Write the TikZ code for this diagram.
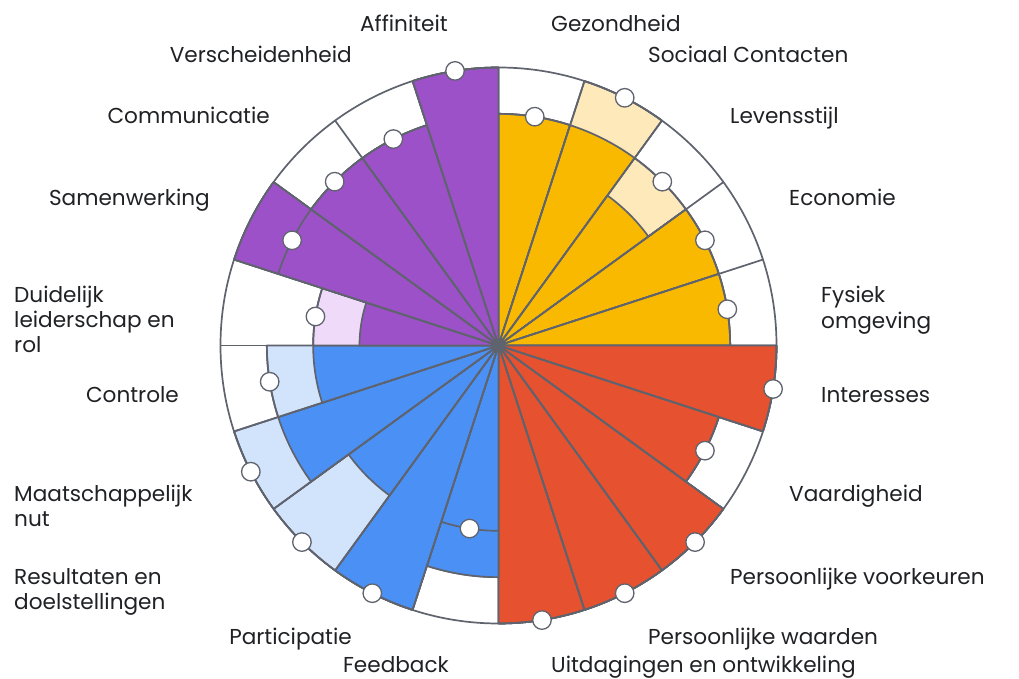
\documentclass[tikz,border=0pt]{standalone}
\usepackage{fontspec}
\setmainfont{Poppins}
\definecolor{linec}{RGB}{95,99,110}
\definecolor{txt}{RGB}{32,33,36}
\definecolor{cpurple}{RGB}{157,81,201}
\definecolor{lpurple}{RGB}{240,218,250}
\definecolor{cyellow}{RGB}{248,185,0}
\definecolor{lyellow}{RGB}{253,233,185}
\definecolor{cred}{RGB}{230,81,48}
\definecolor{lred}{RGB}{250,210,200}
\definecolor{cblue}{RGB}{74,144,245}
\definecolor{lblue}{RGB}{210,227,252}
\begin{document}
\begin{tikzpicture}[x=1pt,y=1pt,
  lbl/.style={inner sep=0pt,text=txt,font=\fontsize{21.6}{25}\selectfont},
  lblR/.style={lbl,anchor=base west},
  lblL/.style={lbl,anchor=base east},
  wheel/.style={draw=linec,line width=1.7pt,line join=round},
  marker/.style={circle,draw=linec,fill=white,line width=1.3pt,minimum size=18.5pt,inner sep=0pt}]
\useasboundingbox (0,0) rectangle (1019,679);
\pgfmathsetmacro{\u}{278/6}
\begin{scope}[shift={(498.5,333.5)}]
  \fill[white] (0,0) circle (278);
  % start angle / value level / light level / marker level / colour / light colour
  \foreach \a/\v/\t/\m/\c/\l in {
     72/5/5/5/cyellow/lyellow, 54/5/6/6/cyellow/lyellow, 36/4/5/5/cyellow/lyellow,
     18/5/5/5/cyellow/lyellow, 0/5/5/5/cyellow/lyellow,
     -18/6/6/6/cred/lred, -36/5/5/5/cred/lred, -54/6/6/6/cred/lred,
     -72/6/6/6/cred/lred, -90/6/6/6/cred/lred,
     252/5/5/4/cblue/lblue, 234/6/6/6/cblue/lblue, 216/4/6/6/cblue/lblue,
     198/5/6/6/cblue/lblue, 180/4/5/5/cblue/lblue,
     162/3/4/4/cpurple/lpurple, 144/6/6/5/cpurple/lpurple, 126/5/5/5/cpurple/lpurple,
     108/5/5/5/cpurple/lpurple, 90/6/6/6/cpurple/lpurple}{
    \pgfmathsetmacro{\rt}{\t*\u}
    \pgfmathsetmacro{\rv}{\v*\u}
    \pgfmathsetmacro{\rm}{\m*\u}
    \pgfmathsetmacro{\b}{\a+18}
    \filldraw[wheel,fill=\l] (0,0) -- (\a:\rt) arc[start angle=\a,end angle=\b,radius=\rt] -- cycle;
    \filldraw[wheel,fill=\c] (0,0) -- (\a:\rv) arc[start angle=\a,end angle=\b,radius=\rv] -- cycle;
    \draw[wheel] (\a:\rm) arc[start angle=\a,end angle=\b,radius=\rm];
  }
  \foreach \a in {0,18,...,342}{
    \draw[wheel] (0,0) -- (\a:278);
  }
  \draw[wheel] (0,0) circle (278);
  \foreach \a/\m [count=\i] in {81/5,63/6,45/5,27/5,9/5,
      -9/6,-27/5,-45/6,-63/6,-81/6,
      261/4,243/6,225/6,207/6,189/5,
      171/4,153/5,135/5,117/5,99/6}{
    \node[marker] (m\i) at (\a:{\m*\u}) {};
  }
  \fill[linec] (0,0) circle (6.5);
\end{scope}
% labels right
\node[lblR] (gez) at (551,647) {Gezondheid};
\node[lblR] (soc) at (648,616) {Sociaal Contacten};
\node[lblR] (lev) at (730,555) {Levensstijl};
\node[lblR] (eco) at (789,473) {Economie};
\node[lblR] (fys) at (821,376) {\vtop{\baselineskip=26pt\lineskiplimit=-20pt\hbox{Fysiek}\hbox{omgeving}}};
\node[lblR] (int) at (821,276) {Interesses};
\node[lblR] (vaa) at (789,177) {Vaardigheid};
\node[lblR] (pvo) at (730,94) {Persoonlijke voorkeuren};
\node[lblR] (pwa) at (648,34) {Persoonlijke waarden};
\node[lblR] (uit) at (551,6) {Uitdagingen en ontwikkeling};
% labels left
\node[lblL] (aff) at (448,647) {Affiniteit};
\node[lblL] (ver) at (352,616) {Verscheidenheid};
\node[lblL] (com) at (270,555) {Communicatie};
\node[lblL] (sam) at (210,473) {Samenwerking};
\node[lblR] (dui) at (14,376) {\vtop{\baselineskip=25pt\lineskiplimit=-20pt\hbox{Duidelijk}\hbox{leiderschap en}\hbox{rol}}};
\node[lblL] (con) at (179,276) {Controle};
\node[lblR] (maa) at (14,177) {\vtop{\baselineskip=24.5pt\lineskiplimit=-20pt\hbox{Maatschappelijk}\hbox{nut}}};
\node[lblR] (res) at (14,94) {\vtop{\baselineskip=24.5pt\lineskiplimit=-20pt\hbox{Resultaten en}\hbox{doelstellingen}}};
\node[lblL] (par) at (352,34) {Participatie};
\node[lblL] (fee) at (449,6) {Feedback};
\end{tikzpicture}
\end{document}
